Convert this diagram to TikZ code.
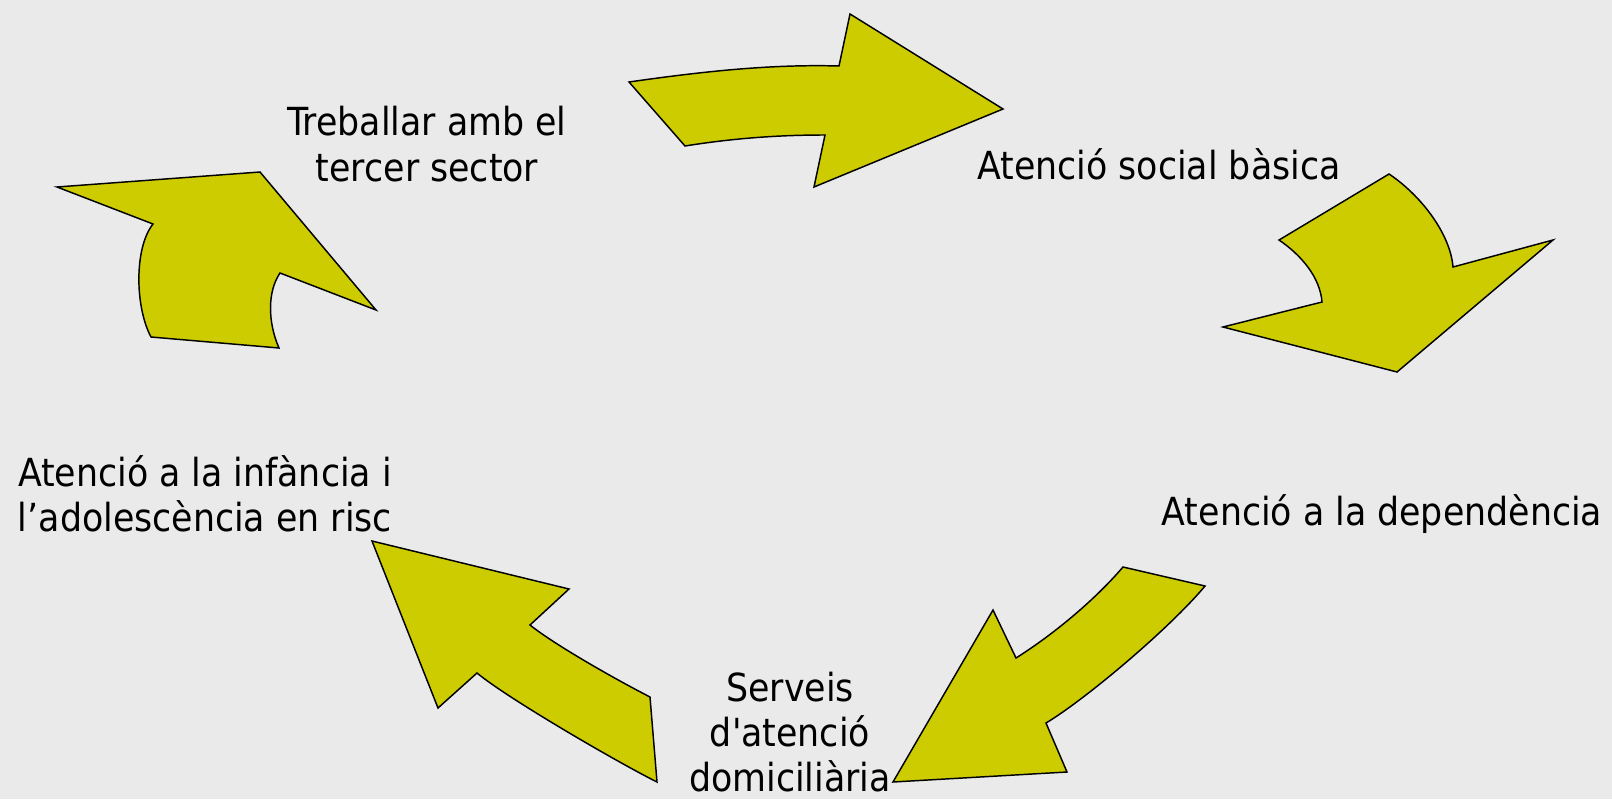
\documentclass[tikz,border=0pt]{standalone}
\usepackage{fontspec}
\setmainfont{DejaVu Sans Condensed}
\definecolor{bggray}{RGB}{234,234,234}
\definecolor{arrowfill}{RGB}{204,204,0}
\begin{document}
\begin{tikzpicture}[x=0.75pt,y=-0.75pt,
  arrowshape/.style={fill=arrowfill,draw=black,line width=1.1pt,line join=miter},
  lbl/.style={font=\fontsize{29}{34}\selectfont,align=center,inner sep=0pt}]

% Background
\fill [bggray] (0,0) rectangle (1612,799);
\useasboundingbox (0,0) rectangle (1612,799);

% Arrows
\draw [arrowshape] (629,82) .. controls (699,72) and (769,64) .. (839,66)
  -- (850,14) -- (1003,109) -- (814,187) -- (825,135)
  .. controls (780,135) and (735,138) .. (685,146) -- cycle;

\draw [arrowshape] (1389,174) .. controls (1419,194) and (1450,232) .. (1453,267)
  -- (1553,240) -- (1397,372) -- (1223,327) -- (1322,302)
  .. controls (1320,277) and (1301,255) .. (1279,240) -- cycle;

\draw [arrowshape] (1205,586) .. controls (1170,628) and (1086,699) .. (1046,723)
  -- (1067,772) -- (893,782) -- (993,610) -- (1016,658)
  .. controls (1051,636) and (1093,602) .. (1123,567) -- cycle;

\draw [arrowshape] (657,782) .. controls (617,762) and (507,698) .. (477,673)
  -- (438,708) -- (372,541) -- (569,589) -- (530,625)
  .. controls (555,645) and (615,679) .. (650,697) -- cycle;

\draw [arrowshape] (151,337) .. controls (135,307) and (134,248) .. (153,224)
  -- (57,187) -- (260,172) -- (376,310) -- (280,273)
  .. controls (267,292) and (268,323) .. (279,348) -- cycle;

% Labels
\node [lbl] (tercer) at (427,144) {Treballar amb el\\tercer sector};
\node [lbl] (basica) at (1159,164) {Atenció social bàsica};
\node [lbl] (dependencia) at (1382,514) {Atenció a la dependència};
\node [lbl] (domicili) at (790,732) {Serveis\\d\textquotesingle atenció\\domiciliària};
\node [lbl] (infancia) at (205,494) {Atenció a la infància i\\l’adolescència en risc};
\end{tikzpicture}
\end{document}
